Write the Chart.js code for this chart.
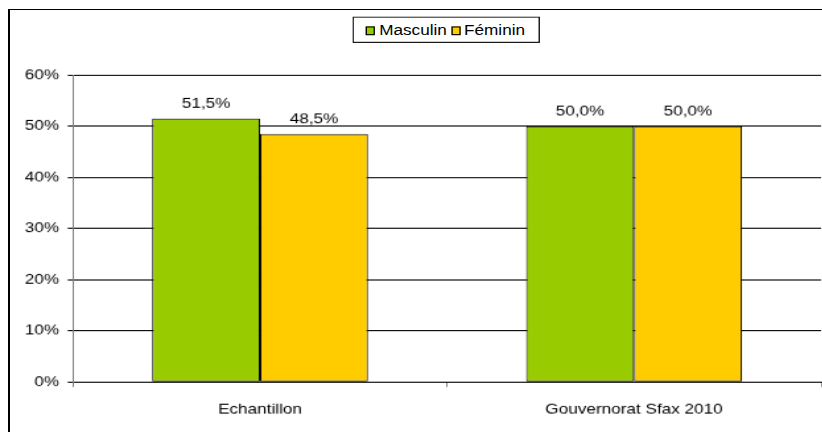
<!DOCTYPE html>
<html>
<head>
<meta charset="utf-8">
<script src="https://cdn.jsdelivr.net/npm/chart.js@4/dist/chart.umd.min.js"></script>
<style>
  html, body { margin: 0; padding: 0; background: #fff; overflow: hidden; width: 822px; height: 432px; }
  #frame { position: absolute; left: 8px; top: 9px; width: 900px; height: 500px;
           border-top: 1px solid #000; border-left: 2px solid #000; }
  /* the original export is stretched, so the chart is drawn small and widened */
  #wrap { position: absolute; left: 0; top: 0; width: 640px; height: 393px;
          transform: scale(1.32, 1.1); transform-origin: 0 0; }
  #legend { position: absolute; left: 267px; top: 15px; height: 22px; width: 140px;
            border: 1px solid #000; background: #fff; display: flex; align-items: center;
            justify-content: center;
            font: 13px "Liberation Sans", Arial, sans-serif; color: #000; white-space: nowrap; }
  #legend span.sw { display: inline-block; width: 5px; height: 6px; border: 1px solid #000;
                    margin: 0 3px 0 1px; position: relative; top: 1px; }
  #legend span.item { margin-right: 2px; }
</style>
</head>
<body>
<div id="frame"></div>
<div id="wrap">
  <canvas id="myChart" width="640" height="393"></canvas>
  <div id="legend"></div>
</div>
<script>
"use strict";

// Data
const categories = ["Echantillon", "Gouvernorat Sfax 2010"];
const masculin = [0.515, 0.5];
const feminin = [0.485, 0.5];
const seriesNames = ["Masculin", "Féminin"];
const seriesColors = ["#99CC00", "#FFCC00"];
const yTicks = [0, 0.1, 0.2, 0.3, 0.4, 0.5, 0.6];

Chart.defaults.font.family = '"Liberation Sans", Arial, sans-serif';
Chart.defaults.font.size = 13;
Chart.defaults.color = "#000";

const pct = (v, d) => (v * 100).toFixed(d).replace(".", ",") + "%";

// labels above each bar
const barLabels = {
    id: "barLabels",
    afterDatasetsDraw(chart) {
        const ctx = chart.ctx;
        ctx.save();
        ctx.font = '13px "Liberation Sans", Arial, sans-serif';
        ctx.fillStyle = "#000";
        ctx.textAlign = "center";
        ctx.textBaseline = "bottom";
        chart.data.datasets.forEach((ds, i) => {
            chart.getDatasetMeta(i).data.forEach((bar, j) => {
                ctx.fillText(pct(ds.data[j], 1), bar.x, bar.y - 7);
            });
        });
        ctx.restore();
    },
};

const data = {
    labels: categories,
    datasets: [
        {
            label: seriesNames[0],
            data: masculin,
            backgroundColor: seriesColors[0],
        },
        {
            label: seriesNames[1],
            data: feminin,
            backgroundColor: seriesColors[1],
        },
    ],
};
data.datasets.forEach((ds) => {
    ds.borderColor = "#000";
    ds.borderWidth = 1;
    ds.borderSkipped = false;
    ds.barPercentage = 1;
    ds.categoryPercentage = 0.577;
});

const config = {
    type: "bar",
    data: data,
    options: {
        responsive: false,
        animation: false,
        layout: {
            padding: { left: 0, top: 68.2, right: 18, bottom: 0 },
        },
        plugins: {
            legend: { display: false },
            tooltip: { enabled: false },
        },
        scales: {
            x: {
                afterFit(scale) { scale.height = 45.7; },
                grid: {
                    drawOnChartArea: false,
                    tickLength: 4.5,
                    tickColor: "#808080",
                },
                border: { color: "#000", width: 1 },
                ticks: { padding: 13, maxRotation: 0 },
            },
            y: {
                min: 0,
                max: 0.6,
                afterFit(scale) { scale.width = 55.3; },
                afterBuildTicks(scale) { scale.ticks = yTicks.map((v) => ({ value: v })); },
                grid: {
                    color: "#000",
                    tickLength: 4,
                    tickColor: "#000",
                },
                border: { color: "#808080", width: 1 },
                ticks: {
                    padding: 6.5,
                    callback: (v) => Math.round(v * 100) + "%",
                },
            },
        },
    },
    plugins: [barLabels],
};

const myChart = new Chart(document.getElementById("myChart"), config);

// html legend built from the datasets
const legend = document.getElementById("legend");
myChart.data.datasets.forEach((ds) => {
    const sw = document.createElement("span");
    sw.className = "sw";
    sw.style.background = ds.backgroundColor;
    const txt = document.createElement("span");
    txt.className = "item";
    txt.textContent = ds.label;
    legend.appendChild(sw);
    legend.appendChild(txt);
});
</script>
</body>
</html>
